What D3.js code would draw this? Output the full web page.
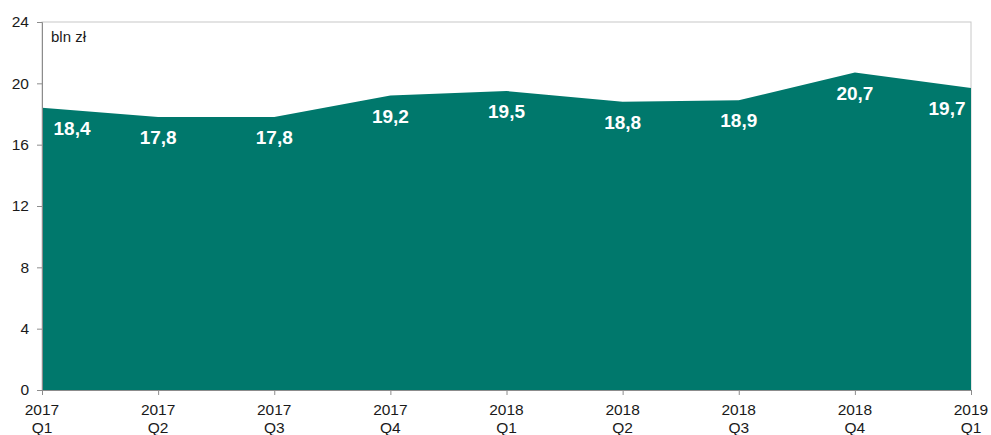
<!DOCTYPE html>
<html>
<head>
<meta charset="utf-8">
<script src="https://cdn.jsdelivr.net/npm/d3@7"></script>
<style>
  body { margin: 0; background: #fff; }
  svg { display: block; font-family: "Liberation Sans", Arial, sans-serif; }
</style>
</head>
<body>
<div id="chart"></div>
<script>
const years = ["2017", "2017", "2017", "2017", "2018", "2018", "2018", "2018", "2019"];
const quarters = ["Q1", "Q2", "Q3", "Q4", "Q1", "Q2", "Q3", "Q4", "Q1"];
const values = [18.4, 17.8, 17.8, 19.2, 19.5, 18.8, 18.9, 20.7, 19.7];
const labels = ["18,4", "17,8", "17,8", "19,2", "19,5", "18,8", "18,9", "20,7", "19,7"];
const yTicks = [0, 4, 8, 12, 16, 20, 24];
const unit = "bln zł";

const width = 991, height = 435;
const margin = { top: 22, right: 20, bottom: 45, left: 42 };

const data = values.map((v, i) => ({ i: i, value: v, label: labels[i] }));

const svg = d3.select("#chart").append("svg")
  .attr("width", width)
  .attr("height", height);

const x = d3.scaleLinear()
  .domain([0, values.length - 1])
  .range([margin.left, width - margin.right]);

const y = d3.scaleLinear()
  .domain([0, 24])
  .range([height - margin.bottom, margin.top]);

// plot border
svg.append("rect")
  .attr("x", margin.left)
  .attr("y", margin.top)
  .attr("width", width - margin.left - margin.right)
  .attr("height", height - margin.top - margin.bottom)
  .attr("fill", "none")
  .attr("stroke", "#c8c8c8")
  .attr("stroke-width", 1);

// area
const area = d3.area()
  .x((d) => x(d.i))
  .y0(y(0))
  .y1((d) => y(d.value));

svg.append("path")
  .datum(data)
  .attr("d", area)
  .attr("fill", "#00786c");

// y axis
const yAxis = svg.append("g")
  .attr("transform", `translate(${margin.left},0)`)
  .call(d3.axisLeft(y).tickValues(yTicks).tickSize(5).tickPadding(8));
yAxis.select(".domain").attr("stroke", "#8c8c8c");
yAxis.selectAll(".tick line").attr("stroke", "#8c8c8c");
yAxis.selectAll(".tick text")
  .attr("fill", "#1a1a1a")
  .style("font-size", "15.5px");

// x axis
const xAxis = svg.append("g")
  .attr("transform", `translate(0,${y(0)})`)
  .call(d3.axisBottom(x).tickValues(d3.range(values.length)).tickSize(5).tickFormat(""));
xAxis.select(".domain").attr("stroke", "#8c8c8c");
xAxis.selectAll(".tick line").attr("stroke", "#8c8c8c");

const xLabels = svg.append("g")
  .selectAll("text")
  .data(data)
  .join("text")
  .attr("x", (d) => x(d.i))
  .attr("y", y(0) + 25)
  .attr("text-anchor", "middle")
  .attr("fill", "#1a1a1a")
  .style("font-size", "15.5px");
xLabels.append("tspan").attr("x", (d) => x(d.i)).text((d) => years[d.i]);
xLabels.append("tspan").attr("x", (d) => x(d.i)).attr("dy", 18).text((d) => quarters[d.i]);

// unit label
svg.append("text")
  .attr("x", margin.left + 9)
  .attr("y", margin.top + 20)
  .attr("fill", "#1a1a1a")
  .style("font-size", "15px")
  .text(unit);

// value labels (first and last pulled inside the plot)
svg.append("g")
  .selectAll("text")
  .data(data)
  .join("text")
  .attr("x", (d) => {
    const px = x(d.i);
    if (d.i === 0) return px + 30;
    if (d.i === values.length - 1) return px - 24;
    return px;
  })
  .attr("y", (d) => y(d.value) + 27)
  .attr("text-anchor", "middle")
  .attr("fill", "#ffffff")
  .style("font-size", "19px")
  .style("font-weight", "bold")
  .text((d) => d.label);
</script>
</body>
</html>
